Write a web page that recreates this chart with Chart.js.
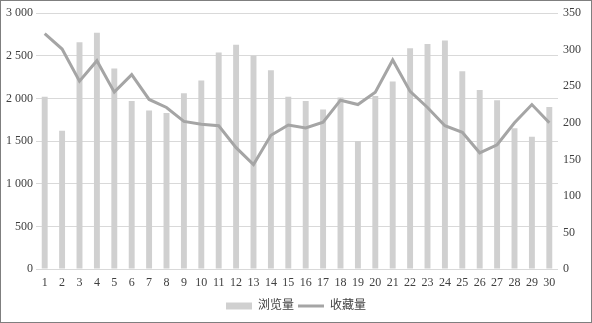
<!DOCTYPE html>
<html>
<head>
<meta charset="utf-8">
<script src="https://cdn.jsdelivr.net/npm/chart.js@4/dist/chart.umd.min.js"></script>
<style>
  html, body { margin: 0; padding: 0; background: #fff; }
  #box { width: 592px; height: 323px; box-sizing: border-box; border: 1px solid #7f7f7f; }
  canvas { display: block; }
</style>
</head>
<body>
<div id="box"><canvas id="grafico" width="590" height="321"></canvas></div>
<script>
// dias 1..30
const dias = ['1','2','3','4','5','6','7','8','9','10','11','12','13','14','15',
              '16','17','18','19','20','21','22','23','24','25','26','27','28','29','30'];
// 浏览量 (eixo esquerdo)
const visualizacoes = [2020, 1620, 2660, 2770, 2350, 1970, 1860, 1830, 2060, 2210,
                       2540, 2630, 2500, 2330, 2020, 1970, 1870, 2010, 1500, 2030,
                       2200, 2590, 2640, 2680, 2320, 2100, 1980, 1650, 1550, 1900];
// 收藏量 (eixo direito)
const favoritos = [322, 301, 257, 285, 242, 266, 232, 221, 202, 198,
                   196, 166, 143, 183, 197, 193, 201, 231, 225, 242,
                   286, 243, 221, 196, 187, 159, 170, 200, 225, 200];
const ticksEsquerda = [0, 500, 1000, 1500, 2000, 2500, 3000];
const ticksDireita = [0, 50, 100, 150, 200, 250, 300, 350];

const fonteNum = { family: "'Liberation Serif', 'Noto Sans CJK SC', serif", size: 12 };

function formatarMilhar(v) {
    return String(v).replace(/\B(?=(\d{3})+(?!\d))/g, ' ');
}

const ctx = document.getElementById('grafico').getContext('2d');
new Chart(ctx, {
    data: {
        labels: dias,
        datasets: [
            {
                type: 'line',
                label: '收藏量',
                data: favoritos,
                yAxisID: 'y1',
                borderColor: '#a5a5a5',
                backgroundColor: '#a5a5a5',
                borderWidth: 3,
                pointRadius: 0,
                tension: 0,
                pointStyle: 'line',
                order: 0
            },
            {
                type: 'bar',
                label: '浏览量',
                data: visualizacoes,
                yAxisID: 'y',
                backgroundColor: '#d0d0d0',
                borderWidth: 0,
                barPercentage: 0.34,
                categoryPercentage: 1,
                pointStyle: 'rect',
                order: 1
            }
        ]
    },
    options: {
        responsive: false,
        devicePixelRatio: 1,
        animation: false,
        layout: { padding: { top: 11, left: 0, right: 0, bottom: 0 } },
        plugins: {
            tooltip: { enabled: false },
            legend: {
                position: 'bottom',
                reverse: true,
                labels: {
                    usePointStyle: true,
                    pointStyleWidth: 26,
                    boxHeight: 7,
                    padding: 4,
                    color: '#404040',
                    font: fonteNum
                }
            }
        },
        scales: {
            x: {
                grid: { display: false, drawTicks: false },
                border: { display: false },
                ticks: { color: '#404040', font: fonteNum, maxRotation: 0, autoSkip: false, padding: 7 },
                afterFit: function(escala) { escala.height = 27; }
            },
            y: {
                position: 'left',
                min: 0,
                max: 3000,
                afterBuildTicks: function(escala) { escala.ticks = ticksEsquerda.map(v => ({ value: v })); },
                grid: { color: '#d9d9d9', drawTicks: false },
                border: { display: false },
                ticks: { color: '#404040', font: fonteNum, padding: 3, callback: v => formatarMilhar(v) },
                afterFit: function(escala) { escala.width = 35; }
            },
            y1: {
                position: 'right',
                min: 0,
                max: 350,
                afterBuildTicks: function(escala) { escala.ticks = ticksDireita.map(v => ({ value: v })); },
                grid: { display: false, drawTicks: false },
                border: { display: false },
                ticks: { color: '#404040', font: fonteNum, padding: 5 },
                afterFit: function(escala) { escala.width = 33; }
            }
        }
    }
});
</script>
</body>
</html>
